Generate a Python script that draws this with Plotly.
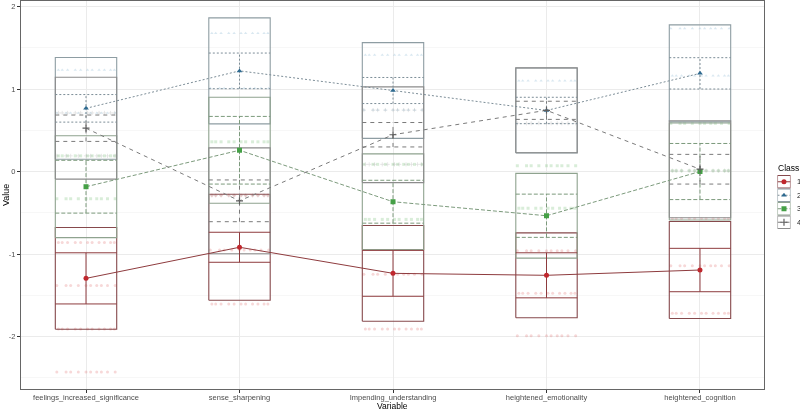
import plotly.graph_objects as go

# ---------------- data ----------------
variables = ["feelings_increased_significance", "sense_sharpening",
             "Impending_understanding", "heightened_emotionality",
             "heightened_cognition"]
var_pos = [1, 2, 3, 4, 5]
class_labels = ["1", "2", "3", "4"]

mean_c1 = [-1.295, -0.918, -1.234, -1.258, -1.194]
mean_c2 = [0.766, 1.220, 0.982, 0.740, 1.190]
mean_c3 = [-0.184, 0.258, -0.366, -0.536, 0.000]
mean_c4 = [0.525, -0.355, 0.446, 0.742, 0.028]

# standard deviation of each variable (equal across classes)
sd_by_var = [0.617, 0.642, 0.580, 0.514, 0.588]

# half width of confidence intervals
ci_c1 = [0.310, 0.182, 0.278, 0.273, 0.263]
ci_c2 = [0.167, 0.216, 0.158, 0.160, 0.190]
ci_c3 = [0.320, 0.410, 0.260, 0.262, 0.340]
ci_c4 = [0.160, 0.253, 0.148, 0.110, 0.180]

# raw (jittered) observations: variable position and value rows per class
raw_c1_var = [1, 1, 1, 1, 2, 2, 2, 3, 3, 4, 4, 4, 5, 5, 5]
raw_c1_val = [-0.86, -1.38, -1.91, -2.43, -0.29, -0.95, -1.606, -1.245, -1.909,
              -0.96, -1.475, -1.99, -0.57, -1.142, -1.719]
raw_c2_var = [1, 1, 2, 2, 3, 3, 4, 5, 5]
raw_c2_val = [1.23, 0.71, 1.675, 1.01, 1.412, 0.745, 1.10, 1.735, 1.161]
raw_c3_var = [1, 1, 2, 3, 3, 4, 4, 5, 5]
raw_c3_val = [0.19, -0.33, 0.36, 0.087, -0.58, 0.07, -0.445, 0.584, 0.01]
raw_c4_var = [1, 1, 2, 3, 3, 4, 5]
raw_c4_val = [0.71, 0.19, -0.29, 0.745, 0.087, 0.585, 0.01]
jitter_a = [-0.18, -0.155, -0.12, -0.07, -0.035, 0.01, 0.04, 0.085, 0.12, 0.16, 0.185]
jitter_b = [-0.19, -0.13, -0.10, -0.05, 0.0, 0.03, 0.07, 0.10, 0.14, 0.19]

y_tick_vals = [-2, -1, 0, 1, 2]
y_tick_text = ["-2", "-1", "0", "1", "2"]

# ---------------- styles ----------------
point_colors = ["#C0272D", "#2E6A90", "#45A046", "#5E5E5E"]
line_colors = ["#8E3B3E", "#7C8D97", "#7C9A7C", "#7A7A7A"]
rect_colors = ["#86494C", "#8E9DA3", "#8FA38F", "#8C8C8C"]
raw_colors = ["#E06A6A", "#6FA8C8", "#6DBB6D", "#8A8A8A"]
dashes = ["solid", "2px,2px", "4px,2px", "4px,4px"]
symbols = ["circle", "triangle-up", "square", "cross-thin"]
BOX_HALF = 0.2

means = [mean_c1, mean_c2, mean_c3, mean_c4]
cis = [ci_c1, ci_c2, ci_c3, ci_c4]
raws = [(raw_c1_var, raw_c1_val), (raw_c2_var, raw_c2_val),
        (raw_c3_var, raw_c3_val), (raw_c4_var, raw_c4_val)]

fig = go.Figure()

# raw data
for k in range(4):
    rv, rval = raws[k]
    xs, ys = [], []
    for i, (v, val) in enumerate(zip(rv, rval)):
        pat = jitter_a if i % 2 == 0 else jitter_b
        for d in pat:
            xs.append(v + d)
            ys.append(val)
    fig.add_trace(go.Scatter(
        x=xs, y=ys, mode="markers", showlegend=False, hoverinfo="skip",
        opacity=0.26,
        marker=dict(symbol=symbols[k], size=3, color=raw_colors[k],
                    line=dict(width=0.8 if k == 3 else 0, color=raw_colors[k]))))

# SD rectangles
for k in range(4):
    xs, ys = [], []
    for p, m, s in zip(var_pos, means[k], sd_by_var):
        xs += [p - BOX_HALF, p + BOX_HALF, p + BOX_HALF, p - BOX_HALF, p - BOX_HALF, None]
        ys += [m - s, m - s, m + s, m + s, m - s, None]
    fig.add_trace(go.Scatter(x=xs, y=ys, mode="lines", showlegend=False,
                             hoverinfo="skip",
                             line=dict(color=rect_colors[k], width=1.1)))

# CI error bars
for k in range(4):
    xs, ys = [], []
    for p, m, c in zip(var_pos, means[k], cis[k]):
        xs += [p, p, None, p - BOX_HALF, p + BOX_HALF, None, p - BOX_HALF, p + BOX_HALF, None]
        ys += [m - c, m + c, None, m + c, m + c, None, m - c, m - c, None]
    fig.add_trace(go.Scatter(x=xs, y=ys, mode="lines", showlegend=False,
                             hoverinfo="skip",
                             line=dict(color=line_colors[k], width=1, dash=dashes[k])))

# profile lines and points
for k in range(4):
    fig.add_trace(go.Scatter(
        x=var_pos, y=means[k], mode="lines+markers", showlegend=False,
        hoverinfo="skip",
        line=dict(color=line_colors[k], width=1, dash=dashes[k]),
        marker=dict(symbol=symbols[k], size=5, color=point_colors[k],
                    line=dict(width=1.2 if k == 3 else 0, color=point_colors[k]))))

# custom legend keys (on auxiliary axes)
for k in range(4):
    c = 3.5 - k
    fig.add_trace(go.Scatter(
        x=[0.0, 0.5, 1.0], y=[c, c, c], mode="lines", xaxis="x2", yaxis="y2",
        showlegend=False, hoverinfo="skip",
        line=dict(color=line_colors[k], width=1, dash=dashes[k])))
    fig.add_trace(go.Scatter(
        x=[0.5], y=[c], mode="markers", xaxis="x2", yaxis="y2",
        showlegend=False, hoverinfo="skip",
        marker=dict(symbol=symbols[k], size=5, color=point_colors[k],
                    line=dict(width=1.2 if k == 3 else 0, color=point_colors[k]))))
    fig.add_shape(type="rect", xref="x2", yref="y2", x0=0.0, x1=1.0,
                  y0=c - 0.46, y1=c + 0.46,
                  line=dict(color=rect_colors[k], width=1.1))
    fig.add_annotation(text=class_labels[k], xref="paper", yref="y2",
                       x=0.9936, y=c, xanchor="left", yanchor="middle",
                       showarrow=False, font=dict(size=7.5, color="#1A1A1A"))

FONT = "Liberation Sans, Arial, sans-serif"
fig.update_layout(
    width=800, height=411,
    margin=dict(l=21, r=0, t=1, b=22, autoexpand=False),
    paper_bgcolor="white", plot_bgcolor="white",
    font=dict(family=FONT, color="#1A1A1A"),
    xaxis=dict(domain=[0, 0.95379], range=[0.5765, 5.417], automargin=False,
               tickmode="array", tickvals=var_pos, ticktext=variables,
               showgrid=True, gridcolor="#EBEBEB", gridwidth=1,
               zeroline=False, ticks="outside", ticklen=3, tickcolor="#333333",
               ticklabelstandoff=-2,
               tickfont=dict(size=7.5, color="#4D4D4D"),
               showline=True, mirror=True, linecolor="#666666", linewidth=1),
    yaxis=dict(range=[-2.636, 2.067], tickmode="array", automargin=False,
               tickvals=y_tick_vals, ticktext=y_tick_text,
               showgrid=True, gridcolor="#EBEBEB", gridwidth=1,
               minor=dict(dtick=0.5, showgrid=True, gridcolor="#F2F2F2", gridwidth=0.6),
               zeroline=False, ticks="outside", ticklen=3, tickcolor="#333333",
               tickfont=dict(size=7.5, color="#4D4D4D"),
               showline=True, mirror=True, linecolor="#666666", linewidth=1),
    xaxis2=dict(domain=[0.9711, 0.9878], range=[0, 1], visible=False,
                anchor="y2", fixedrange=True, automargin=False),
    yaxis2=dict(domain=[0.4124, 0.5515], range=[0, 4], visible=False,
                anchor="x2", fixedrange=True, automargin=False),
    annotations=list(fig.layout.annotations) + [
        dict(text="Value", xref="paper", yref="paper", x=-0.01926, y=0.5,
             textangle=-90, showarrow=False, xanchor="center", yanchor="middle",
             font=dict(size=9, color="#000000")),
        dict(text="Variable", xref="paper", yref="paper", x=0.4775, y=-0.0451,
             showarrow=False, xanchor="center", yanchor="middle",
             font=dict(size=8.5, color="#000000")),
        dict(text="Class", xref="paper", yref="paper", x=0.9695, y=0.5696,
             showarrow=False, xanchor="left", yanchor="middle",
             font=dict(size=8.5, color="#000000")),
    ],
)

fig.write_html("out.html",
               config={"displayModeBar": False, "staticPlot": True},
               post_script="document.body.style.margin='0';"
                           "document.body.style.padding='0';"
                           "document.body.style.overflow='hidden';")
